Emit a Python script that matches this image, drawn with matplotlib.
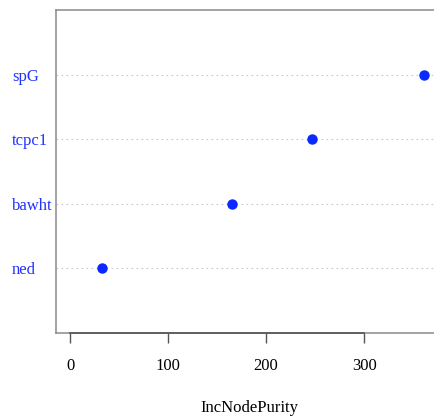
import matplotlib
matplotlib.use("Agg")
import matplotlib.pyplot as plt

# variable importance values
variables = ["ned", "bawht", "tcpc1", "spG"]
inc_node_purity = [33, 165, 247, 361]
xticks = [0, 100, 200, 300]

plt.rcParams["font.family"] = ["Liberation Serif", "DejaVu Serif"]

fig = plt.figure(figsize=(4.35, 4.2), dpi=100)
# box runs a little past the right edge, as in the cropped original
ax = fig.add_axes([56 / 435, 87 / 420, 386 / 435, 323 / 420])

ypos = list(range(1, len(variables) + 1))
for y in ypos:
    ax.axhline(y, color="#c8c8c8", lw=0.8, ls=(0, (1.5, 3)), zorder=1)
ax.plot(inc_node_purity, ypos, "o", color="#0a28ff", ms=6.5, zorder=3)

ax.set_xlim(-14.4, 379.5)
ax.set_ylim(0, 5)

for s in ax.spines.values():
    s.set_color("#8a8a8a")
    s.set_linewidth(1.1)
ax.spines["right"].set_visible(False)

# R style axis line between first and last tick
ax.plot([xticks[0], xticks[-1]], [0, 0], color="#555555", lw=1.2, clip_on=False, zorder=4)

ax.set_yticks(ypos)
ax.set_yticklabels(variables, color="#2233ff", fontsize=12)
ax.tick_params(axis="y", length=0, pad=0)
for lab in ax.get_yticklabels():
    lab.set_horizontalalignment("left")
    lab.set_x(-44 / 386)

ax.set_xticks(xticks)
ax.set_xticklabels([str(t) for t in xticks], fontsize=12)
ax.tick_params(axis="x", length=7, width=1, color="#555555", pad=11)
ax.set_xlabel("IncNodePurity", fontsize=12, labelpad=19)

fig.savefig("out.png", dpi=100)
